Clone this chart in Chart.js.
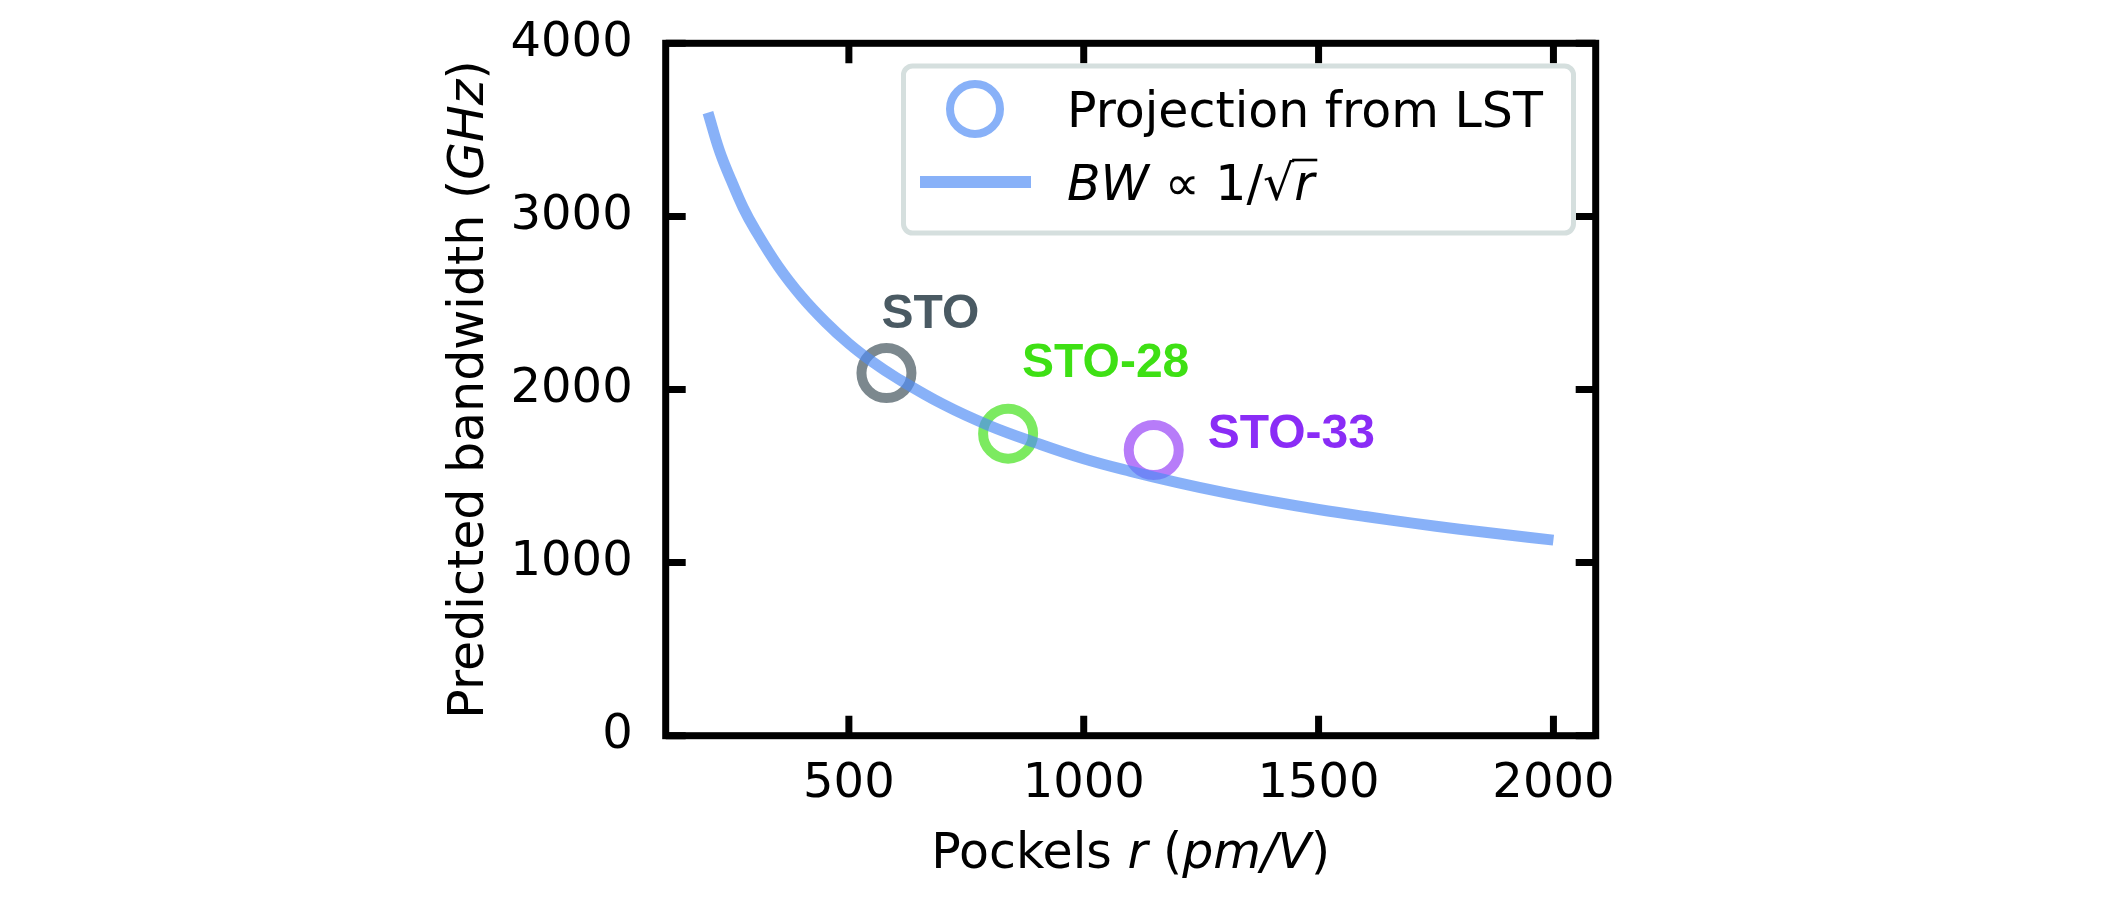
<!DOCTYPE html>
<html>
<head>
<meta charset="utf-8">
<title>Predicted bandwidth vs Pockels r</title>
<script src="https://cdn.jsdelivr.net/npm/chart.js@4.4.1/dist/chart.umd.min.js"></script>
<style>
  html, body { margin: 0; padding: 0; background: #ffffff; }
  #wrap { width: 2126px; height: 898px; position: relative; }
</style>
</head>
<body>
<div id="wrap"><canvas id="chart" width="2126" height="898"></canvas></div>
<script>
// values
const xTicks = [500, 1000, 1500, 2000];
const yTicks = [0, 1000, 2000, 3000, 4000];

const fitR = [200, 225, 250, 275, 300, 350, 400, 450, 500, 550, 600, 700, 800, 900, 1000,
  1100, 1200, 1300, 1400, 1500, 1600, 1700, 1800, 1900, 2000];
const fitBW = [3600, 3375, 3205, 3050, 2925, 2710, 2535, 2390, 2265, 2160, 2070, 1915, 1790, 1690, 1600,
  1527, 1462, 1404, 1353, 1307, 1266, 1228, 1193, 1161, 1130];

const sampleNames = ["STO", "STO-28", "STO-33"];
const sampleR = [580, 839, 1149];
const sampleBW = [2095, 1745, 1650];

const legendLabels = ["Projection from LST", "BW \u221d 1/\u221ar"];

// styling
const textColors = ["#4a5a63", "#3ee014", "#8a2cf6"];
const ringColors = ["rgba(74,90,99,0.72)", "rgba(62,224,20,0.68)", "rgba(138,44,246,0.62)"];
const fitColor = "rgba(80,140,245,0.68)";
const labelOffsets = [[-5, -45], [14, -57], [54, -2]];

const FONT = '"DejaVu Sans", sans-serif';

function richText(ctx, parts, size) {
  let w = 0;
  parts.forEach(function (p) {
    ctx.font = (p[1] ? "italic " : "") + size + "px " + FONT;
    w += ctx.measureText(p[0]).width;
  });
  return w;
}

function drawRich(ctx, parts, size, x, y) {
  let cx = x;
  parts.forEach(function (p) {
    ctx.font = (p[1] ? "italic " : "") + size + "px " + FONT;
    ctx.fillText(p[0], cx, y);
    cx += ctx.measureText(p[0]).width;
  });
  return cx;
}

const framePlugin = {
  id: "frame",
  afterDatasetsDraw: function (chart) {
    const ctx = chart.ctx;
    const area = chart.chartArea;
    const xs = chart.scales.x;
    const ys = chart.scales.y;
    ctx.save();

    // sample labels
    const meta = chart.getDatasetMeta(1);
    ctx.textAlign = "left";
    ctx.textBaseline = "alphabetic";
    ctx.font = 'bold 48px "Liberation Sans", Arial, sans-serif';
    sampleNames.forEach(function (name, i) {
      const pt = meta.data[i];
      ctx.fillStyle = textColors[i];
      ctx.fillText(name, pt.x + labelOffsets[i][0], pt.y + labelOffsets[i][1]);
    });

    // frame and inward ticks
    ctx.strokeStyle = "#000";
    ctx.lineWidth = 7;
    ctx.lineCap = "butt";
    const tl = 20;
    ctx.beginPath();
    xTicks.forEach(function (v) {
      const px = xs.getPixelForValue(v);
      ctx.moveTo(px, area.bottom); ctx.lineTo(px, area.bottom - tl);
      ctx.moveTo(px, area.top); ctx.lineTo(px, area.top + tl);
    });
    yTicks.forEach(function (v) {
      const py = ys.getPixelForValue(v);
      ctx.moveTo(area.left, py); ctx.lineTo(area.left + tl, py);
      ctx.moveTo(area.right, py); ctx.lineTo(area.right - tl, py);
    });
    ctx.stroke();
    ctx.lineJoin = "miter";
    ctx.strokeRect(area.left, area.top, area.right - area.left, area.bottom - area.top);

    // legend
    const lx = 903.5, ly = 66, lw = 670, lh = 167, r = 9;
    ctx.beginPath();
    ctx.roundRect(lx, ly, lw, lh, r);
    ctx.fillStyle = "rgba(255,255,255,0.85)";
    ctx.fill();
    ctx.lineWidth = 5;
    ctx.strokeStyle = "#d5dfde";
    ctx.stroke();

    ctx.beginPath();
    ctx.arc(975, 109, 25, 0, Math.PI * 2);
    ctx.lineWidth = 8;
    ctx.strokeStyle = fitColor;
    ctx.stroke();

    ctx.beginPath();
    ctx.moveTo(920, 182);
    ctx.lineTo(1031, 182);
    ctx.lineWidth = 12;
    ctx.stroke();

    ctx.fillStyle = "#000";
    ctx.textAlign = "left";
    ctx.font = "49px " + FONT;
    ctx.fillText(legendLabels[0], 1067, 127);

    // BW ∝ 1/√r
    let cx = drawRich(ctx, [["BW", true], [" \u221d 1/\u221a", false]], 49, 1067, 200);
    const rStart = cx;
    cx = drawRich(ctx, [["r", true]], 49, cx, 200);
    ctx.beginPath();
    ctx.moveTo(rStart - 2, 160);
    ctx.lineTo(cx + 3, 160);
    ctx.lineWidth = 2.6;
    ctx.strokeStyle = "#000";
    ctx.stroke();

    // axis titles
    const xParts = [["Pockels ", false], ["r", true], [" (", false], ["pm/V", true], [")", false]];
    const xw = richText(ctx, xParts, 49);
    drawRich(ctx, xParts, 49, (area.left + area.right) / 2 - xw / 2, 868);

    const yParts = [["Predicted bandwidth (", false], ["GHz", true], [")", false]];
    const yw = richText(ctx, yParts, 49);
    ctx.translate(483, (area.top + area.bottom) / 2);
    ctx.rotate(-Math.PI / 2);
    drawRich(ctx, yParts, 49, -yw / 2, 0);

    ctx.restore();
  }
};

function plainLabel(value) {
  return String(value);
}

function clearScalePadding(scale) {
  scale.paddingTop = 0;
  scale.paddingBottom = 0;
  scale.paddingLeft = 0;
  scale.paddingRight = 0;
}

new Chart(document.getElementById("chart"), {
  type: "scatter",
  data: {
    datasets: [
      {
        type: "line",
        label: legendLabels[1],
        data: fitR.map(function (r, i) { return { x: r, y: fitBW[i] }; }),
        borderColor: fitColor,
        borderWidth: 11,
        borderCapStyle: "butt",
        pointRadius: 0,
        tension: 0.4,
        fill: false,
        order: 1
      },
      {
        label: legendLabels[0],
        data: sampleR.map(function (r, i) { return { x: r, y: sampleBW[i] }; }),
        pointStyle: "circle",
        pointRadius: 25,
        pointBorderWidth: 10,
        pointBackgroundColor: "rgba(0,0,0,0)",
        pointBorderColor: ringColors,
        order: 2
      }
    ]
  },
  options: {
    responsive: false,
    animation: false,
    devicePixelRatio: 1,
    layout: { padding: { left: 0, top: 43.3, right: 530.3, bottom: 0 } },
    scales: {
      x: {
        type: "linear",
        min: 110,
        max: 2090,
        afterBuildTicks: function (scale) {
          scale.ticks = xTicks.map(function (v) { return { value: v }; });
        },
        afterFit: function (scale) {
          scale.height = 162.3;
          clearScalePadding(scale);
        },
        grid: { display: false, drawTicks: false },
        border: { display: false },
        ticks: {
          color: "#000",
          padding: 20,
          maxRotation: 0,
          autoSkip: false,
          callback: plainLabel,
          font: { family: FONT, size: 48 }
        }
      },
      y: {
        type: "linear",
        min: 0,
        max: 4000,
        afterBuildTicks: function (scale) {
          scale.ticks = yTicks.map(function (v) { return { value: v }; });
        },
        afterFit: function (scale) {
          scale.width = 665.7;
          clearScalePadding(scale);
        },
        grid: { display: false, drawTicks: false },
        border: { display: false },
        ticks: {
          color: "#000",
          padding: 33,
          callback: plainLabel,
          font: { family: FONT, size: 48 }
        }
      }
    },
    plugins: {
      legend: { display: false },
      tooltip: { enabled: false }
    }
  },
  plugins: [framePlugin]
});
</script>
</body>
</html>
